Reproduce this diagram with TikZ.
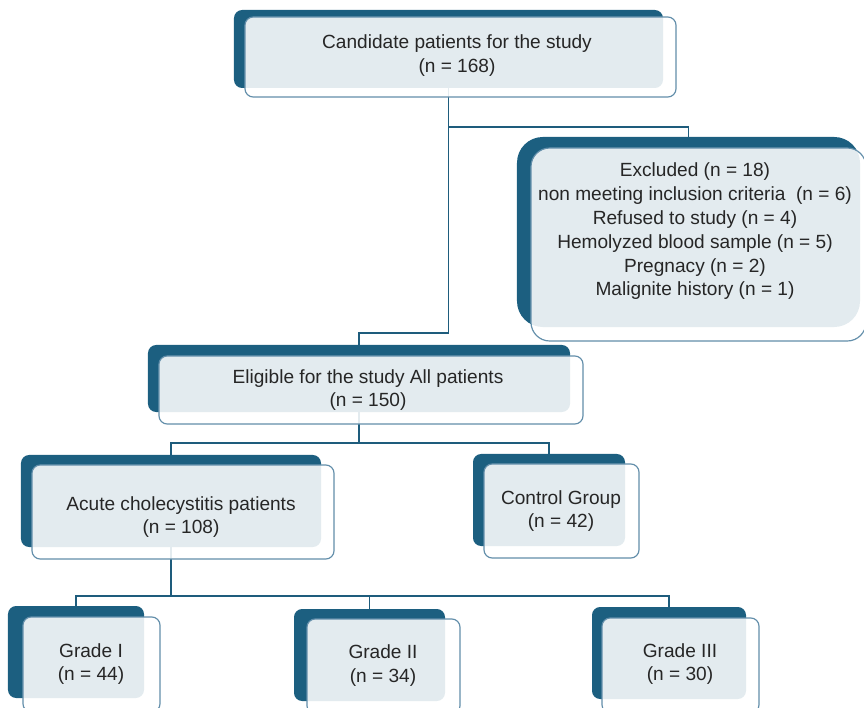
\documentclass[tikz,border=0pt]{standalone}
\usepackage{fontspec}
\setmainfont{Liberation Sans}
\usetikzlibrary{backgrounds}
\definecolor{boxteal}{RGB}{28,95,128}
\definecolor{edgeblue}{RGB}{98,142,170}
\definecolor{linkteal}{RGB}{30,92,124}
\definecolor{textgray}{RGB}{38,38,38}

\begin{document}
\begin{tikzpicture}[
                x=0.03cm, y=-0.03cm,
                back/.style={rectangle, fill=boxteal, inner sep=0pt, rounded corners=7pt},
                front/.style={rectangle, draw=edgeblue, line width=1pt, fill=white, fill opacity=0.88, inner sep=0pt, rounded corners=7pt},
                txt/.style={align=center, text=textgray, inner sep=0pt, font=\fontsize{16.3}{20.3}\selectfont},
                link/.style={draw=linkteal, line width=0.9pt}
            ]
                \useasboundingbox (0,0) rectangle (864,708);
                \clip (0,0) rectangle (864,708);

                \node[back, minimum width=12.87cm, minimum height=2.34cm] (candB) at (448.5,49) {};
                \node[front, minimum width=12.93cm, minimum height=2.40cm] (candF) at (460.5,57) {};
                \node[txt] (cand) at (457,55.5) {Candidate patients for the study\\(n = 168)};

                \node[back, rounded corners=22pt, minimum width=10.29cm, minimum height=5.70cm] (exclB) at (688.5,232) {};
                \node[front, rounded corners=16pt, minimum width=10.05cm, minimum height=5.79cm] (exclF) at (698.5,244.5) {};
                \node[txt] (excl) at (695,231.5) {Excluded (n = 18)\\non meeting inclusion criteria \ (n = 6)\\Refused to study (n = 4)\\Hemolyzed blood sample (n = 5)\\Pregnacy (n = 2)\\Malignite history (n = 1)};

                \node[back, minimum width=12.66cm, minimum height=2.01cm] (eligB) at (359,378.5) {};
                \node[front, minimum width=12.72cm, minimum height=2.04cm] (eligF) at (371,390) {};
                \node[txt] (elig) at (368,390) {Eligible for the study All patients\\(n = 150)};

                \node[back, minimum width=9.00cm, minimum height=2.76cm] (acuteB) at (171,501) {};
                \node[front, minimum width=9.06cm, minimum height=2.82cm] (acuteF) at (183,512) {};
                \node[txt] (acute) at (181,517) {Acute cholecystitis patients\\(n = 108)};

                \node[back, minimum width=4.56cm, minimum height=2.76cm] (ctrlB) at (549,500) {};
                \node[front, minimum width=4.65cm, minimum height=2.82cm] (ctrlF) at (561.5,511) {};
                \node[txt] (ctrl) at (561,511) {Control Group\\(n = 42)};

                \node[back, minimum width=4.08cm, minimum height=2.76cm] (gradeIB) at (76,652) {};
                \node[front, minimum width=4.11cm, minimum height=2.85cm] (gradeIF) at (91.5,664.5) {};
                \node[txt] (gradeI) at (91,664) {Grade I\\(n = 44)};

                \node[back, minimum width=4.53cm, minimum height=2.76cm] (gradeIIB) at (369.5,655) {};
                \node[front, minimum width=4.59cm, minimum height=2.85cm] (gradeIIF) at (383.5,666.5) {};
                \node[txt] (gradeII) at (383,665.5) {Grade II\\(n = 34)};

                \node[back, minimum width=4.62cm, minimum height=2.76cm] (gradeIIIB) at (669,653) {};
                \node[front, minimum width=4.71cm, minimum height=2.85cm] (gradeIIIF) at (680.5,665.5) {};
                \node[txt] (gradeIII) at (680,664) {Grade III\\(n = 30)};

                \begin{scope}[on background layer]
                    \coordinate (split1) at (448.5,127);
                    \coordinate (split2) at (448.5,333);
                    \draw[link] (candB.south) -- (split2) -| (eligB.north);
                    \draw[link] (split1) -| (exclB.north);
                    \coordinate (split3) at (359,443);
                    \draw[link] (eligB.south) -- (split3) -| (acuteB.north);
                    \draw[link] (split3) -| (ctrlB.north);
                    \coordinate (split4) at (171,596);
                    \draw[link] (acuteB.south) -- (split4) -| (gradeIB.north);
                    \draw[link] (split4) -| (gradeIIB.north);
                    \draw[link] (split4) -| (gradeIIIB.north);
                \end{scope}
            \end{tikzpicture}
\end{document}
